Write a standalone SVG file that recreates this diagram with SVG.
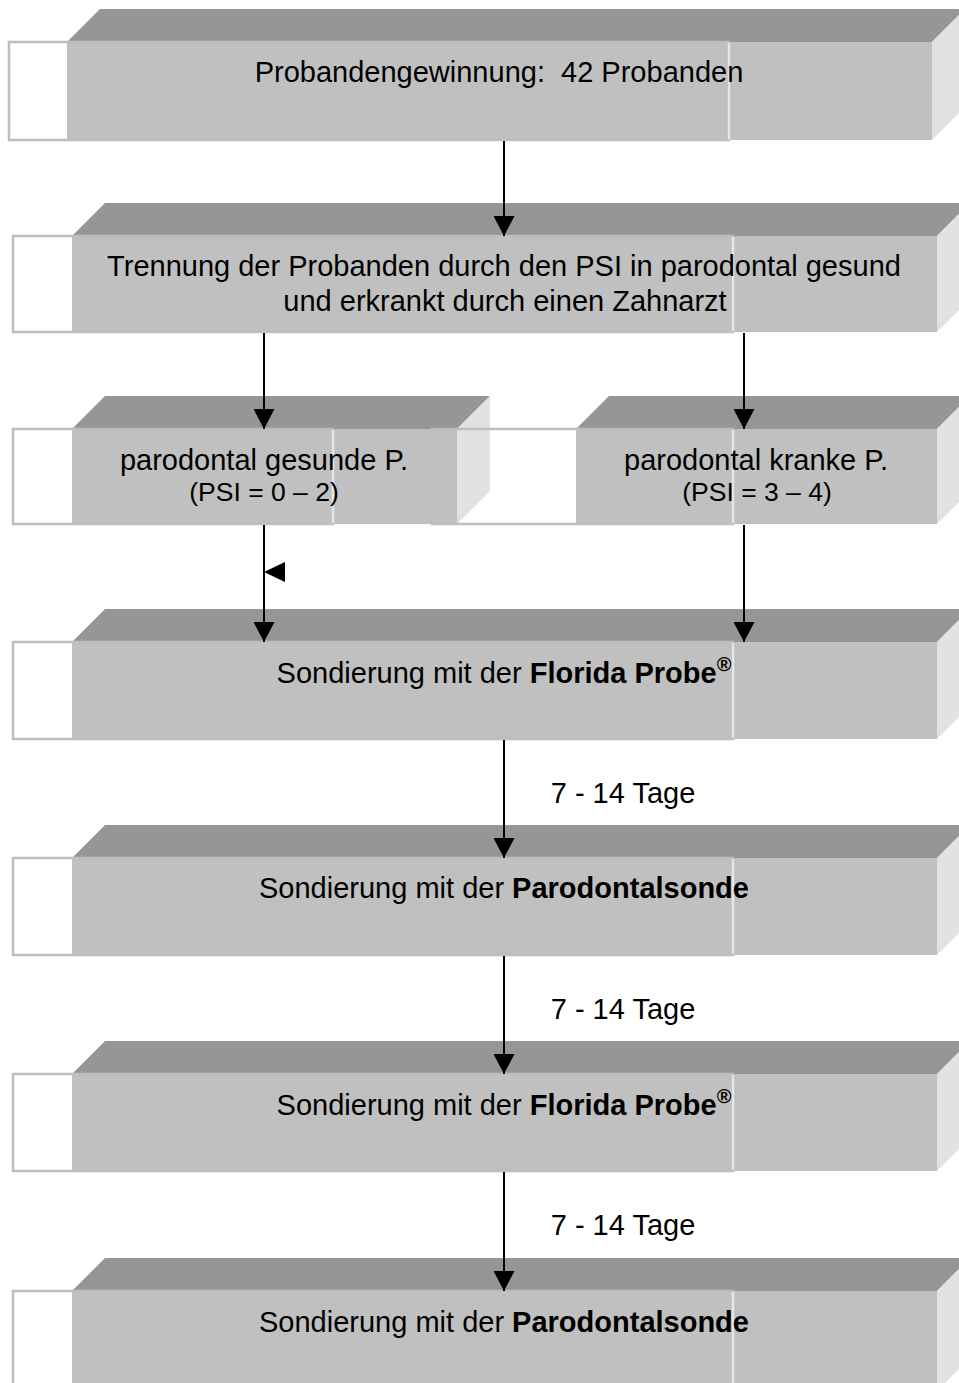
<svg xmlns="http://www.w3.org/2000/svg" width="959" height="1383" viewBox="0 0 959 1383">
<defs>
<style>
.top{fill:#969696}
.front{fill:#C0C0C0}
.side{fill:#E2E2E2}
.frame{fill:none;stroke:#BDBDBD;stroke-width:2.5}
.frameR{stroke:#E6E6E6;stroke-width:2.5}
.t{font-family:"Liberation Sans",Arial,sans-serif;font-size:29px;fill:#000;text-anchor:middle}
.s{font-family:"Liberation Sans",Arial,sans-serif;font-size:26.5px;fill:#000;text-anchor:middle}
.b{font-weight:bold}
.sup{font-weight:bold;font-size:20px}
.conn{stroke:#000;stroke-width:2;fill:none}
</style>
<marker id="ah" viewBox="0 0 20 21" refX="20" refY="10.5" markerWidth="20" markerHeight="21" markerUnits="userSpaceOnUse" orient="auto">
<path d="M0,0 L20,10.5 L0,21 z" fill="#000"/>
</marker>
</defs>
<rect width="959" height="1383" fill="#fff"/>

<g id="node1">
<polygon class="top" points="67,42 100,9 965,9 932,42"/>
<rect class="front" x="67" y="42" width="865" height="98"/>
<polygon class="side" points="932,42 965,9 965,107 932,140"/>
<rect class="frame" x="9" y="42" width="720" height="98"/>
<line class="frameR" x1="729" y1="43" x2="729" y2="139"/>
<text class="t" x="499" y="82" xml:space="preserve" style="white-space:pre">Probandengewinnung:  42 Probanden</text>
</g>

<g id="node2">
<polygon class="top" points="72,236 105,203 970,203 937,236"/>
<rect class="front" x="72" y="236" width="865" height="96"/>
<polygon class="side" points="937,236 970,203 970,299 937,332"/>
<rect class="frame" x="13" y="236" width="720" height="96"/>
<line class="frameR" x1="733" y1="237" x2="733" y2="331"/>
<text class="t" x="504" y="276">Trennung der Probanden durch den PSI in parodontal gesund</text>
<text class="t" x="505" y="311">und erkrankt durch einen Zahnarzt</text>
</g>

<g id="node3a">
<polygon class="top" points="72,429 105,396 490,396 457,429"/>
<rect class="front" x="72" y="429" width="385" height="95"/>
<polygon class="side" points="457,429 490,396 490,491 457,524"/>
</g>

<g id="node3b">
<polygon class="top" points="576,429 609,396 970,396 937,429"/>
<rect class="front" x="576" y="429" width="361" height="95"/>
<polygon class="side" points="937,429 970,396 970,491 937,524"/>
</g>

<g id="frames3">
<rect class="frame" x="13" y="429" width="320" height="95"/>
<line class="frameR" x1="333" y1="430" x2="333" y2="523"/>
<rect class="frame" x="432" y="429" width="301" height="95"/>
<line class="frameR" x1="733" y1="430" x2="733" y2="523"/>
<text class="t" x="264" y="470">parodontal gesunde P.</text>
<text class="s" x="264" y="501">(PSI = 0 – 2)</text>
<text class="t" x="756" y="470">parodontal kranke P.</text>
<text class="s" x="757" y="501">(PSI = 3 – 4)</text>
</g>

<g id="node4">
<polygon class="top" points="72,642 105,609 970,609 937,642"/>
<rect class="front" x="72" y="642" width="865" height="97"/>
<polygon class="side" points="937,642 970,609 970,706 937,739"/>
<rect class="frame" x="13" y="642" width="720" height="97"/>
<line class="frameR" x1="733" y1="643" x2="733" y2="738"/>
<text class="t" x="504" y="683">Sondierung mit der <tspan class="b">Florida Probe</tspan><tspan class="sup" dy="-12">®</tspan></text>
</g>

<g id="node5">
<polygon class="top" points="72,858 105,825 970,825 937,858"/>
<rect class="front" x="72" y="858" width="865" height="97"/>
<polygon class="side" points="937,858 970,825 970,922 937,955"/>
<rect class="frame" x="13" y="858" width="720" height="97"/>
<line class="frameR" x1="733" y1="859" x2="733" y2="954"/>
<text class="t" x="504" y="898">Sondierung mit der <tspan class="b">Parodontalsonde</tspan></text>
</g>

<g id="node6">
<polygon class="top" points="72,1074 105,1041 970,1041 937,1074"/>
<rect class="front" x="72" y="1074" width="865" height="97"/>
<polygon class="side" points="937,1074 970,1041 970,1138 937,1171"/>
<rect class="frame" x="13" y="1074" width="720" height="97"/>
<line class="frameR" x1="733" y1="1075" x2="733" y2="1170"/>
<text class="t" x="504" y="1115">Sondierung mit der <tspan class="b">Florida Probe</tspan><tspan class="sup" dy="-12">®</tspan></text>
</g>

<g id="node7">
<polygon class="top" points="72,1291 105,1258 970,1258 937,1291"/>
<rect class="front" x="72" y="1291" width="865" height="100"/>
<polygon class="side" points="937,1291 970,1258 970,1358 937,1391"/>
<rect class="frame" x="13" y="1291" width="720" height="100"/>
<line class="frameR" x1="733" y1="1292" x2="733" y2="1391"/>
<text class="t" x="504" y="1332">Sondierung mit der <tspan class="b">Parodontalsonde</tspan></text>
</g>

<g id="connectors">
<line class="conn" x1="504" y1="141" x2="504" y2="236" marker-end="url(#ah)"/>
<line class="conn" x1="264" y1="333" x2="264" y2="429" marker-end="url(#ah)"/>
<line class="conn" x1="744" y1="333" x2="744" y2="429" marker-end="url(#ah)"/>
<line class="conn" x1="264" y1="525" x2="264" y2="642" marker-end="url(#ah)"/>
<polygon points="264,572 285,562 285,582" fill="#000"/>
<line class="conn" x1="744" y1="525" x2="744" y2="642" marker-end="url(#ah)"/>
<line class="conn" x1="504" y1="740" x2="504" y2="858" marker-end="url(#ah)"/>
<line class="conn" x1="504" y1="956" x2="504" y2="1074" marker-end="url(#ah)"/>
<line class="conn" x1="504" y1="1172" x2="504" y2="1291" marker-end="url(#ah)"/>
<text class="t" x="623" y="803">7 - 14 Tage</text>
<text class="t" x="623" y="1019">7 - 14 Tage</text>
<text class="t" x="623" y="1235">7 - 14 Tage</text>
</g>
</svg>
